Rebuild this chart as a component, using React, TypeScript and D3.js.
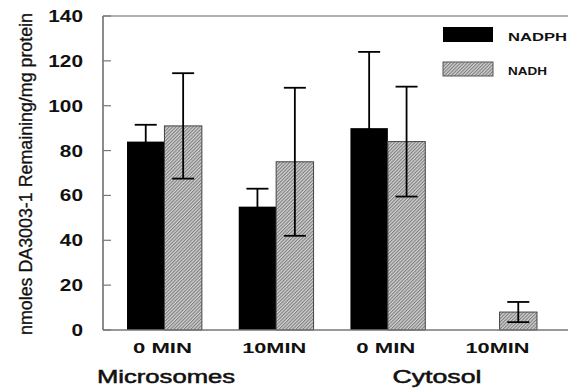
import React from 'react';
import * as d3 from 'd3';

// categories (time point + fraction)
const timeLabels = ['0 MIN', '10MIN', '0 MIN', '10MIN'];
const fractions = ['Microsomes', 'Microsomes', 'Cytosol', 'Cytosol'];
const seriesNames = ['NADPH', 'NADH'];
const nadph = [84, 55, 90, 0];
const nadphErr = [7.5, 8, 34, 0];
const nadh = [91, 75, 84, 8];
const nadhErr = [23.5, 33, 24.5, 4.5];
const yTicks = [0, 20, 40, 60, 80, 100, 120, 140];
const groupTitles = ['Microsomes', 'Cytosol'];

const W = 568, H = 389;
const left = 103, right = 561, top = 16, bottom = 330;
const font = '"Liberation Sans", Arial, sans-serif';

const App = () => {
  const keys = timeLabels.map((t, i) => fractions[i] + ' ' + t);
  const x = d3.scaleBand().domain(keys).range([left, right]).paddingInner(0.33).paddingOuter(0.215);
  const xs = d3.scaleBand().domain(seriesNames).range([0, x.bandwidth()]);
  const y = d3.scaleLinear().domain([0, 140]).range([bottom, top]);

  const series = [
    { name: 'NADPH', vals: nadph, err: nadphErr, fill: '#000', stroke: 'none' },
    { name: 'NADH', vals: nadh, err: nadhErr, fill: 'url(#hatch)', stroke: '#444' },
  ];

  const titlePos = [166, 437];
  const labelLen = { '0 MIN': 59, '10MIN': 64 };

  return (
    <svg width={W} height={H} style={{ position: 'absolute', left: 0, top: 0, background: '#fff' }} fontFamily={font}>
      <defs>
        <pattern id="hatch" width="2.4" height="2.4" patternUnits="userSpaceOnUse" patternTransform="rotate(-45)">
          <rect width="2.4" height="2.4" fill="#d2d2d2" />
          <line x1="0" y1="0.6" x2="2.4" y2="0.6" stroke="#6a6a6a" strokeWidth="0.9" />
        </pattern>
      </defs>

      {/* frame */}
      <line x1={left} x2={W} y1={top} y2={top} stroke="#999" strokeWidth={1.5} />
      <line x1={left} x2={left} y1={top} y2={bottom} stroke="#666" strokeWidth={1.5} />

      {/* y ticks */}
      {yTicks.map(t => (
        <g key={t}>
          <line x1={left} x2={left + 8} y1={y(t)} y2={y(t)} stroke="#777" strokeWidth={1.2} />
          <text transform={`translate(83,${y(t) + 6}) scale(1.3,1)`} textAnchor="end" fontWeight="bold" fontSize={16} fill="#111">{t}</text>
        </g>
      ))}

      {/* bars */}
      {series.map(s => keys.map((k, i) => s.vals[i] > 0 ? (
        <rect key={s.name + i} x={x(k)! + xs(s.name)!} y={y(s.vals[i])} width={xs.bandwidth()} height={y(0) - y(s.vals[i])}
          fill={s.fill} stroke={s.stroke} strokeWidth={1} />
      ) : null))}

      {/* error bars */}
      {series.map(s => keys.map((k, i) => {
        if (s.vals[i] <= 0) return null;
        const cx = x(k)! + xs(s.name)! + xs.bandwidth() / 2;
        const hi = y(s.vals[i] + s.err[i]), lo = y(s.vals[i] - s.err[i]);
        return (
          <g key={'e' + s.name + i} stroke="#000" strokeWidth={1.8}>
            <line x1={cx} x2={cx} y1={hi} y2={lo} />
            <line x1={cx - 11} x2={cx + 11} y1={hi} y2={hi} />
            <line x1={cx - 11} x2={cx + 11} y1={lo} y2={lo} />
          </g>
        );
      }))}

      {/* x axis */}
      <line x1={left} x2={W} y1={bottom} y2={bottom} stroke="#777" strokeWidth={1.5} />

      {keys.map((k, i) => (
        <text key={'xl' + i} x={x(k)! + x.bandwidth() / 2 - 2} y={353} textAnchor="middle" fontWeight="bold" fontSize={14} fill="#111"
          textLength={labelLen[timeLabels[i]]} lengthAdjust="spacingAndGlyphs">{timeLabels[i]}</text>
      ))}
      {groupTitles.map((g, i) => (
        <text key={g} x={titlePos[i]} y={383} textAnchor="middle" fontSize={18} fill="#111" stroke="#111" strokeWidth={0.5}
          textLength={i === 0 ? 138 : 89} lengthAdjust="spacingAndGlyphs">{g}</text>
      ))}

      {/* y title */}
      <text transform={`translate(32,174) rotate(-90)`} textAnchor="middle" fontSize={18} fill="#111" stroke="#111" strokeWidth={0.3}
        textLength={322} lengthAdjust="spacingAndGlyphs">nmoles DA3003-1 Remaining/mg protein</text>

      {/* legend */}
      {series.map((s, i) => (
        <g key={'lg' + s.name}>
          <rect x={443} y={27 + i * 35} width={50} height={i === 0 ? 15 : 14} fill={s.fill} stroke={i === 0 ? 'none' : '#555'} />
          <text x={508} y={41 + i * 34} fontWeight="bold" fontSize={11.5} fill="#111"
            textLength={i === 0 ? 59 : 39} lengthAdjust="spacingAndGlyphs">{s.name}</text>
        </g>
      ))}
    </svg>
  );
};

export default App;
